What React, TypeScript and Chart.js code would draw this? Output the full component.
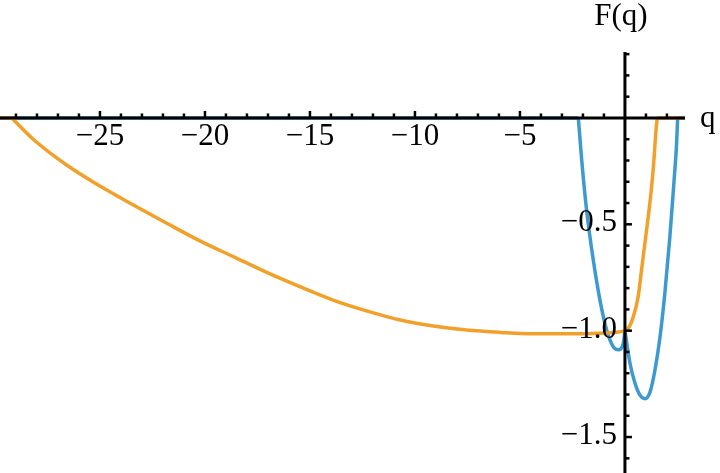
import React, { useEffect, useRef } from 'react';
import { Chart, registerables } from 'chart.js';

Chart.register(...registerables);

// Axis ranges
const X_MIN = -29.76;
const X_MAX = 2.86;
const Y_MIN = -1.669;
const Y_MAX = 0.31;

// Labelled ticks
const xMajorTicks = [-25, -20, -15, -10, -5];
const yMajorTicks = [-1.5, -1.0, -0.5];

// Orange series (null = break in the line)
const orangeQ = [-29.76, -29.2, -29.2, -29.2, -28.18, -26.59, -25.0, -23.41, -21.82, -20.24, -18.65, -17.06, -15.48, -13.9, -12.3, -10.7, -9.13, -7.54, -5.95, -4.37, -2.78, -1.2, 0, 0.16, 0.4, 0.63, 0.79, 0.95, 1.11, 1.27, 1.38, 1.48, 1.54, 1.54, 1.54, 2.86];
const orangeF = [0, 0, null, 0, -0.1, -0.221, -0.32, -0.409, -0.495, -0.578, -0.652, -0.726, -0.793, -0.856, -0.907, -0.95, -0.978, -0.997, -1.008, -1.015, -1.015, -1.012, -1.0, -0.989, -0.934, -0.84, -0.715, -0.589, -0.464, -0.323, -0.197, -0.056, 0, null, 0, 0];

// Blue series (null = break in the line)
const blueQ = [-29.76, -2.22, -2.22, -2.22, -2.06, -1.83, -1.51, -1.19, -0.87, -0.56, -0.32, -0.08, 0, 0, 0, 0.24, 0.48, 0.71, 0.95, 1.19, 1.43, 1.67, 1.9, 2.14, 2.33, 2.46, 2.51, 2.51, 2.51, 2.86];
const blueF = [0, 0, null, 0, -0.197, -0.43, -0.667, -0.856, -0.997, -1.075, -1.09, -1.06, -1.0, null, -1.0, -1.153, -1.247, -1.302, -1.32, -1.29, -1.185, -1.03, -0.825, -0.558, -0.307, -0.119, 0, null, 0, 0];

const SERIF = '"Liberation Serif", "Times New Roman", serif';

const toPoints = (qs: number[], fs: (number | null)[]) =>
  qs.map((q, i) => ({ x: q, y: fs[i] }));

const fmt = (v: number, digits: number) =>
  v.toFixed(digits).replace('-', '\u2212');

const axesPlugin = {
  id: 'mmaAxes',
  afterDraw(chart: any) {
    const { ctx, chartArea } = chart;
    const xs = chart.scales.x;
    const ys = chart.scales.y;
    const x0 = xs.getPixelForValue(0);
    const y0 = ys.getPixelForValue(0);
    ctx.save();
    ctx.strokeStyle = '#000';
    ctx.lineCap = 'butt';
    // axis lines
    ctx.lineWidth = 3;
    ctx.beginPath();
    ctx.moveTo(chartArea.left, y0);
    ctx.lineTo(chartArea.right, y0);
    ctx.moveTo(x0, chartArea.top);
    ctx.lineTo(x0, chartArea.bottom);
    ctx.stroke();
    // x ticks (upward)
    ctx.lineWidth = 2.5;
    for (let v = Math.ceil(X_MIN); v <= Math.floor(X_MAX); v++) {
      if (v === 0) continue;
      const px = xs.getPixelForValue(v);
      const major = v % 5 === 0;
      ctx.beginPath();
      ctx.moveTo(px, y0);
      ctx.lineTo(px, y0 - 1.5 - (major ? 5.5 : 3));
      ctx.stroke();
    }
    // y ticks (to the right)
    for (let k = Math.ceil(Y_MIN * 10); k <= Math.floor(Y_MAX * 10); k++) {
      if (k === 0) continue;
      const py = ys.getPixelForValue(k / 10);
      const major = k % 5 === 0;
      ctx.beginPath();
      ctx.moveTo(x0, py);
      ctx.lineTo(x0 + 1.5 + (major ? 5.5 : 3), py);
      ctx.stroke();
    }
    // tick labels
    ctx.fillStyle = '#000';
    ctx.font = `31px ${SERIF}`;
    ctx.textBaseline = 'middle';
    ctx.textAlign = 'center';
    for (const v of xMajorTicks) {
      ctx.fillText(fmt(v, 0), xs.getPixelForValue(v), y0 + 19);
    }
    ctx.textAlign = 'right';
    for (const v of yMajorTicks) {
      ctx.fillText(fmt(v, 1), x0 - 8, ys.getPixelForValue(v) - 1);
    }
    // axis labels
    ctx.textBaseline = 'alphabetic';
    ctx.textAlign = 'center';
    ctx.fillText('F(q)', x0 - 4, chartArea.top - 27);
    ctx.textAlign = 'left';
    ctx.fillText('q', chartArea.right + 15, y0 + 9);
    ctx.restore();
  },
};

export default function App() {
  const canvasRef = useRef<HTMLCanvasElement | null>(null);

  useEffect(() => {
    if (!canvasRef.current) return;
    const chart = new Chart(canvasRef.current, {
      type: 'scatter',
      data: {
        datasets: [
          {
            label: 'orange',
            data: toPoints(orangeQ, orangeF) as any,
            showLine: true,
            borderColor: '#f2a02a',
            backgroundColor: '#f2a02a',
            borderWidth: 3.5,
            pointRadius: 0,
            cubicInterpolationMode: 'monotone',
            spanGaps: false,
          },
          {
            label: 'blue',
            data: toPoints(blueQ, blueF) as any,
            showLine: true,
            borderColor: '#3d9ad1',
            backgroundColor: '#3d9ad1',
            borderWidth: 3.5,
            pointRadius: 0,
            cubicInterpolationMode: 'monotone',
            spanGaps: false,
          },
        ],
      },
      options: {
        animation: false,
        responsive: true,
        maintainAspectRatio: false,
        layout: { padding: { top: 52, right: 35, left: 0, bottom: 0 } },
        plugins: {
          legend: { display: false },
          tooltip: { enabled: false },
        },
        events: [],
        scales: {
          x: {
            type: 'linear',
            position: { y: 0 } as any,
            min: X_MIN,
            max: X_MAX,
            grid: { display: false, drawTicks: false },
            border: { display: false },
            ticks: { display: false },
          },
          y: {
            type: 'linear',
            position: { x: 0 } as any,
            min: Y_MIN,
            max: Y_MAX,
            grid: { display: false, drawTicks: false },
            border: { display: false },
            ticks: { display: false },
          },
        },
      },
      plugins: [axesPlugin],
    });
    return () => chart.destroy();
  }, []);

  return (
    <div
      style={{
        position: 'fixed',
        left: 0,
        top: 0,
        width: 720,
        height: 473,
        background: '#fff',
      }}
    >
      <canvas ref={canvasRef} />
    </div>
  );
}
